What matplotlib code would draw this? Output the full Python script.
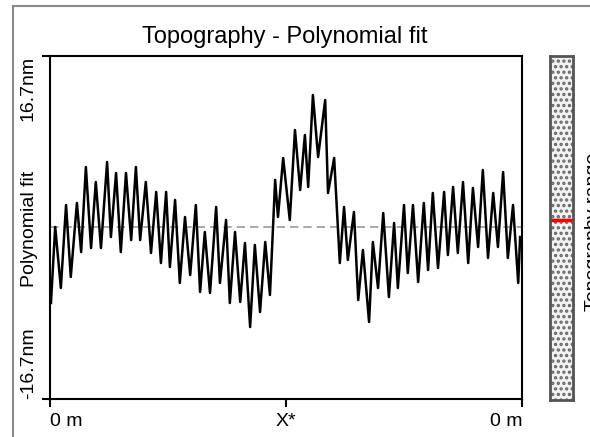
import matplotlib.pyplot as plt
from matplotlib.lines import Line2D
from matplotlib.patches import Rectangle

plt.rcParams['font.family'] = ['Liberation Sans', 'DejaVu Sans']
plt.rcParams['hatch.linewidth'] = 1.6

# Profile position (% of scan length) and polynomial-fit residual height (nm)
position = [0.2, 1.1, 2.3, 3.4, 4.4, 5.7, 6.6, 7.6, 8.7, 9.7,
            10.8, 12.1, 12.9, 14.0, 15.0, 16.1, 17.2, 18.2, 19.1, 20.3,
            21.4, 22.5, 23.5, 24.6, 25.4, 26.5, 27.5, 28.6, 29.7, 30.9,
            31.8, 32.8, 33.9, 35.2, 36.0, 37.3, 38.1, 39.2, 40.3, 41.3,
            42.4, 43.4, 44.5, 45.6, 46.6, 47.7, 48.3, 49.4, 50.8, 51.9,
            53.0, 54.0, 54.7, 55.7, 56.8, 58.3, 58.9, 60.2, 61.4, 62.3,
            63.1, 64.4, 65.3, 66.3, 67.6, 68.4, 69.5, 70.6, 71.8, 72.9,
            73.7, 75.0, 75.8, 76.9, 78.0, 79.2, 80.1, 81.1, 82.2, 83.5,
            84.3, 85.4, 86.4, 87.5, 88.6, 89.6, 90.7, 91.7, 92.8, 93.9,
            94.9, 96.0, 97.0, 98.1, 99.2, 99.6]
height = [-7.35, 0.05, -5.89, 2.19, -4.82, 2.39, -2.39, 5.89, -2.00, 4.43,
          -2.00, 6.38, -0.93, 5.31, -2.39, 5.31, -1.22, 5.89, -1.22, 4.43,
          -2.48, 3.46, -3.46, 3.46, -3.85, 2.68, -5.40, 1.02, -4.63, 2.19,
          -6.28, -0.44, -6.38, 2.00, -5.40, 0.73, -7.35, -0.44, -7.25, -1.51,
          -9.69, -1.70, -8.23, -1.41, -6.57, 4.63, 1.02, 6.77, 0.73, 9.49,
          3.65, 9.01, 3.95, 12.90, 6.86, 12.41, 3.36, 6.77, -3.46, 2.00,
          -3.16, 1.51, -7.06, -2.19, -9.20, -1.41, -5.89, 1.41, -6.77, 0.44,
          -5.89, 2.19, -4.43, 2.19, -5.31, 2.39, -4.14, 3.36, -3.94, 3.46,
          -2.68, 3.95, -2.48, 4.43, -3.46, 3.85, -1.90, 5.60, -2.97, 3.36,
          -1.90, 5.40, -2.97, 2.19, -5.40, -0.93]

z_range = 16.7
x_ticks = [0, 50, 100]
x_labels = ['0 m', 'X*', '0 m']
y_labels = ['-16.7nm', '16.7nm']
marker_level = 0.8  # current level shown on the range bar

W, H = 590, 437
fig = plt.figure(figsize=(W / 100, H / 100), dpi=100)

# grey frame around the panel
fig.add_artist(Line2D([13 / W, 13 / W], [0, 1 - 6 / H], color='#8a8a8a', lw=1.5))
fig.add_artist(Line2D([13 / W, 1], [1 - 6 / H, 1 - 6 / H], color='#8a8a8a', lw=1.5))

ax = fig.add_axes([50 / W, 1 - 399 / H, 472 / W, 343 / H])
ax.plot(position, height, color='black', lw=1.8)
ax.axhline(0, color='#999999', lw=1.2, dashes=(5, 3), zorder=0)
ax.set_xlim(0, 100)
ax.set_ylim(-z_range, z_range)

for s in ax.spines.values():
    s.set_linewidth(1.5)

ax.set_xticks(x_ticks)
ax.set_xticklabels(x_labels, fontsize=14)
ax.set_yticks([-z_range, z_range])
ax.set_yticklabels(y_labels, fontsize=14, rotation=90)
ax.tick_params(direction='out', length=5.5, width=1.5, pad=4.5)
ax.tick_params(axis='y', pad=4)
xl = ax.get_xticklabels()
xl[0].set_ha('left')
xl[-1].set_ha('right')
yl = ax.get_yticklabels()
yl[0].set_va('bottom')
yl[-1].set_va('top')

fig.text(285 / W, 1 - 43 / H, 'Topography - Polynomial fit', fontsize=17,
         ha='center', va='baseline')
fig.text(30 / W, 1 - 229 / H, 'Polynomial fit', fontsize=14, rotation=90,
         ha='center', va='center')

# topography range bar
cb = fig.add_axes([550 / W, 1 - 400 / H, 23 / W, 344 / H])
cb.set_xlim(0, 1)
cb.set_ylim(-z_range, z_range)
cb.add_patch(Rectangle((0, -z_range), 1, 2 * z_range, facecolor='#f2f2f2',
                       edgecolor='#666666', hatch='...', lw=0))
cb.plot([0.05, 0.95], [marker_level, marker_level], color='red', lw=2.5)
cb.set_xticks([])
cb.set_yticks([])
for s in cb.spines.values():
    s.set_color('#555555')
    s.set_linewidth(2)
fig.text(594 / W, 1 - 232 / H, 'Topography range', fontsize=14, rotation=90,
         ha='center', va='center')

fig.savefig('out.png', dpi=100)
